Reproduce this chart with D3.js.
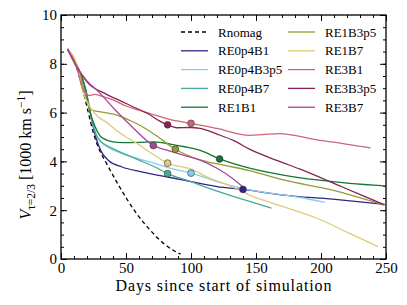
<!DOCTYPE html>
<html lang="en">
<head>
<meta charset="utf-8" />
<title>Photosphere velocity vs time</title>
<script src="https://d3js.org/d3.v7.min.js"></script>
<style>
  body { margin: 0; background: #fff; }
  svg text { font-family: "Liberation Serif", "DejaVu Serif", serif; fill: #000; }
  .axis path { display: none; }
  .axis line { stroke: #000; stroke-width: 1; }
</style>
</head>
<body>
<script>
// ---- data ([day, 1000 km/s]) ----
var names = ["Rnomag", "RE0p4B1", "RE0p4B3p5", "RE0p4B7", "RE1B1",
             "RE1B3p5", "RE1B7", "RE3B1", "RE3B3p5", "RE3B7"];
var colors = ["#000000", "#332288", "#88CCEE", "#44AA99", "#117733",
              "#999933", "#DDCC77", "#CC6677", "#882255", "#AA4499"];

var rnomag = [[5,8.6],[12,7.85],[17,6.9],[21,6.0],[25,5.15],[28.5,4.6],[35,3.92],[45,2.96],
  [58,1.87],[68.5,1.19],[78,0.68],[85,0.4],[92,0.2]];
var re0p4b1 = [[5,8.6],[13,7.85],[19,6.95],[23,5.85],[27,4.95],[31,4.4],[37,4.02],[47,3.77],
  [61,3.58],[72,3.46],[86,3.32],[100,3.17],[120,2.97],[140,2.85],[171,2.62],[209,2.45],[249,2.24]];
var re0p4b3p5 = [[5,8.6],[13,7.85],[19,6.95],[23,5.9],[27,5.1],[31,4.78],[36,4.58],[48,4.3],
  [60,4.1],[72,3.92],[85,3.7],[100,3.52],[120,3.17],[145,2.83],[158,2.72],[184,2.52],[203,2.32]];
var re0p4b7 = [[5,8.6],[13,7.85],[19,6.95],[23,5.9],[27,5.1],[31,4.8],[35,4.66],[47,4.35],
  [60,4.05],[72,3.78],[82,3.5],[100,3.17],[107,3.03],[133,2.56],[145,2.36],[162,2.08]];
var re1b1 = [[5,8.6],[13,7.85],[19,6.9],[22,6.1],[26,5.45],[30,5.05],[34,4.9],[40,4.8],
  [47,4.77],[60,4.78],[72,4.8],[85,4.7],[95,4.6],[107,4.45],[122,4.1],[145,3.72],[171,3.44],
  [197,3.24],[222,3.1],[249,3.0]];
var re1b3p5 = [[5,8.6],[13,7.85],[18,6.9],[22,6.15],[28,6.05],[34,6.0],[44,5.88],[52,5.7],
  [60,5.5],[72,5.1],[88,4.5],[107,4.06],[125,3.85],[145,3.62],[171,3.24],[209,2.82],[249,2.2]];
var re1b7 = [[5,8.6],[13,7.85],[16,7.0],[21,6.35],[28,5.85],[35,5.6],[42,5.3],[50,5.0],
  [60,4.68],[71,4.28],[82,3.93],[99,3.7],[115,3.3],[130,3.0],[145,2.62],[171,2.15],[197,1.67],
  [222,1.05],[244,0.51]];
var re3b1 = [[5,8.6],[12,7.85],[17,6.95],[22,6.7],[26,6.75],[30,6.7],[40,6.52],[50,6.27],
  [60,6.1],[68,5.97],[85,5.7],[100,5.56],[120,5.35],[145,5.07],[155,5.1],[168,5.14],[197,4.88],
  [218,4.72],[238,4.55]];
var re3b3p5 = [[5,8.6],[12,7.88],[21,7.2],[34,6.78],[47,6.45],[57,6.2],[68,5.92],[76,5.65],
  [82,5.5],[89,5.38],[99,5.39],[107,5.35],[120,5.12],[133,4.85],[145,4.5],[167,4.02],[184,3.68],
  [216,2.96],[248,2.24]];
var re3b7 = [[5,8.6],[12,7.9],[20,7.3],[29,6.85],[41,6.15],[55,5.4],[71,4.65],[81,4.47],
  [94,4.26],[107,4.05],[120,3.72],[132,3.3],[140,2.95]];
var series = [rnomag, re0p4b1, re0p4b3p5, re0p4b7, re1b1, re1b3p5, re1b7, re3b1, re3b3p5, re3b7];

// highlighted epochs (circle markers), one per model (none for Rnomag)
var markers = [null, [140,2.85], [100,3.52], [82,3.5], [122,4.1],
               [88,4.5], [82,3.93], [100,5.56], [82,5.5], [71,4.65]];

var xTicks = [0, 50, 100, 150, 200, 250];
var yTicks = [0, 2, 4, 6, 8, 10];

// ---- layout ----
var width = 407, height = 305;
var margin = { top: 15, right: 21, bottom: 46, left: 61 };

var svg = d3.select("body").append("svg")
    .attr("width", width)
    .attr("height", height);

var x = d3.scaleLinear().domain([0, 250]).range([margin.left, width - margin.right]);
var y = d3.scaleLinear().domain([0, 10]).range([height - margin.bottom, margin.top]);

// ticks, inward on all four sides
function addAxis(axis, tf) {
    return svg.append("g").attr("class", "axis").attr("transform", tf).call(axis);
}
var minorX = d3.range(0, 251, 10), minorY = d3.range(0, 10.01, 0.5);
var yb = height - margin.bottom, xl = margin.left, xr = width - margin.right, yt = margin.top;

addAxis(d3.axisBottom(x).tickValues(minorX).tickSize(-3).tickFormat(""), "translate(0," + yb + ")");
addAxis(d3.axisTop(x).tickValues(minorX).tickSize(-3).tickFormat(""), "translate(0," + yt + ")");
addAxis(d3.axisLeft(y).tickValues(minorY).tickSize(-3).tickFormat(""), "translate(" + xl + ",0)");
addAxis(d3.axisRight(y).tickValues(minorY).tickSize(-3).tickFormat(""), "translate(" + xr + ",0)");
addAxis(d3.axisTop(x).tickValues(xTicks).tickSize(-6).tickFormat(""), "translate(0," + yt + ")");
addAxis(d3.axisRight(y).tickValues(yTicks).tickSize(-6).tickFormat(""), "translate(" + xr + ",0)");

var gx = addAxis(d3.axisBottom(x).tickValues(xTicks).tickSize(-6).tickPadding(3), "translate(0," + yb + ")");
gx.selectAll("text").style("font-size", "15px");
var gy = addAxis(d3.axisLeft(y).tickValues(yTicks).tickSize(-6).tickPadding(4), "translate(" + xl + ",0)");
gy.selectAll("text").style("font-size", "15px");

// curves
var line = d3.line()
    .x(function (d) { return x(d[0]); })
    .y(function (d) { return y(d[1]); })
    .curve(d3.curveMonotoneX);

svg.append("g").selectAll("path")
    .data(series)
    .enter().append("path")
    .attr("d", line)
    .attr("fill", "none")
    .attr("stroke", function (d, i) { return colors[i]; })
    .attr("stroke-width", 1.3)
    .attr("stroke-dasharray", function (d, i) { return i === 0 ? "4,3" : null; });

svg.append("g").selectAll("circle")
    .data(markers.map(function (m, i) { return { m: m, i: i }; }).filter(function (d) { return d.m; }))
    .enter().append("circle")
    .attr("cx", function (d) { return x(d.m[0]); })
    .attr("cy", function (d) { return y(d.m[1]); })
    .attr("r", 3.4)
    .attr("fill", function (d) { return colors[d.i]; })
    .attr("stroke", "#333")
    .attr("stroke-width", 0.6);

// frame
svg.append("rect")
    .attr("x", xl).attr("y", yt)
    .attr("width", xr - xl).attr("height", yb - yt)
    .attr("fill", "none").attr("stroke", "#000").attr("stroke-width", 1.3);

// legend, two columns
var legend = svg.append("g").selectAll("g")
    .data(names)
    .enter().append("g")
    .attr("transform", function (d, i) {
        var col = Math.floor(i / 5), row = i % 5;
        return "translate(" + (181 + col * 107) + "," + (32 + row * 18.8) + ")";
    });
legend.append("line")
    .attr("x1", 0).attr("x2", 27)
    .attr("stroke", function (d, i) { return colors[i]; })
    .attr("stroke-width", 1.3)
    .attr("stroke-dasharray", function (d, i) { return i === 0 ? "4,3" : null; });
legend.append("text")
    .attr("x", 37).attr("dy", "0.35em")
    .style("font-size", "13px")
    .text(function (d) { return d; });

// axis labels
svg.append("text")
    .attr("x", (xl + xr) / 2).attr("y", 291)
    .attr("text-anchor", "middle")
    .attr("textLength", 216)
    .attr("lengthAdjust", "spacing")
    .style("font-size", "16px")
    .text("Days since start of simulation");

var yl = svg.append("text")
    .attr("transform", "translate(31,155) rotate(-90)")
    .attr("text-anchor", "middle")
    .style("font-size", "16px");
yl.append("tspan").style("font-style", "italic").text("V");
yl.append("tspan").attr("dy", 4).style("font-size", "11.5px").text("τ=2/3");
yl.append("tspan").attr("dy", -4).text(" [1000 km s");
yl.append("tspan").attr("dy", -6).style("font-size", "11.5px").text("−1");
yl.append("tspan").attr("dy", 6).text("]");
</script>
</body>
</html>
